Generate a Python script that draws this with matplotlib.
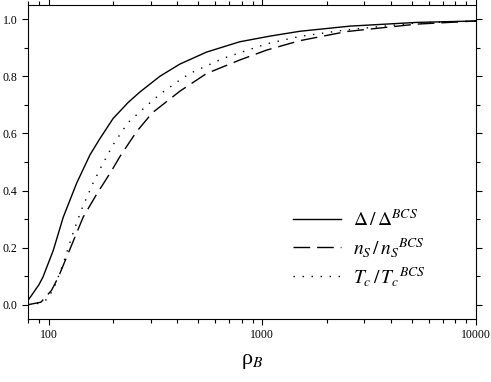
#!/usr/bin/env python3

import matplotlib
matplotlib.use("Agg")
import matplotlib.pyplot as plt
from matplotlib.ticker import LogLocator, MultipleLocator, FixedFormatter, FixedLocator

plt.rcParams['font.family'] = ['Liberation Serif', 'DejaVu Serif']
plt.rcParams['mathtext.fontset'] = 'stix'

# values
rho_delta = [80, 90, 94, 105, 117, 135, 156, 173, 200, 235, 267, 331, 411, 548, 782,
             1085, 1500, 2570, 5270, 10000]
delta = [0.015, 0.07, 0.097, 0.19, 0.307, 0.425, 0.525, 0.58, 0.652, 0.708, 0.745, 0.80, 0.843,
         0.885, 0.921, 0.941, 0.958, 0.976, 0.989, 0.994]

rho_ns = [80, 92, 103, 111, 125, 145, 167, 186, 200, 215, 257, 305, 383, 411, 548, 782,
          1047, 1497, 2480, 5270, 10000]
ns = [0.0, 0.009, 0.05, 0.097, 0.19, 0.307, 0.385, 0.44, 0.478, 0.518, 0.605, 0.672, 0.73,
      0.748, 0.81, 0.857, 0.892, 0.925, 0.957, 0.983, 0.994]

rho_tc = [80, 90, 99, 107, 117, 128, 142, 161, 176, 200, 235, 290, 331, 411, 457, 655,
          1047, 1497, 2480, 5270, 10000]
tc = [0.0, 0.005, 0.02, 0.068, 0.144, 0.237, 0.331, 0.425, 0.483, 0.56, 0.638, 0.70, 0.737,
      0.787, 0.81, 0.863, 0.914, 0.94, 0.963, 0.987, 0.994]

labels = [r'$\Delta\,/\,\Delta^{BCS}$',
          r'$n_S\,/\,{n_S}^{BCS}$',
          r'$T_c\,/\,{T_c}^{BCS}$']

fig = plt.figure(figsize=(4.91, 3.82), dpi=100)
ax = fig.add_axes([28/491, 63/382, 448/491, 314/382])

ax.plot(rho_delta, delta, color='black', lw=1.0, ls='-', label=labels[0])
ax.plot(rho_ns, ns, color='black', lw=1.0, ls=(0, (12, 5)), label=labels[1])
ax.plot(rho_tc, tc, color='black', lw=1.0, ls=(0, (1, 5.5)), label=labels[2])

ax.set_xscale('log')
ax.set_xlim(80, 10000)
ax.set_ylim(-0.05, 1.05)

ax.xaxis.set_major_locator(FixedLocator([100, 1000, 10000]))
ax.xaxis.set_major_formatter(FixedFormatter(['100', '1000', '10000']))
ax.xaxis.set_minor_locator(LogLocator(base=10, subs=range(2, 10)))
ax.xaxis.set_minor_formatter(plt.NullFormatter())
ax.yaxis.set_major_locator(MultipleLocator(0.2))
ax.yaxis.set_minor_locator(MultipleLocator(0.1))
ax.yaxis.set_major_formatter(plt.FuncFormatter(lambda v, p: '%.1f' % v))

ax.tick_params(which='both', direction='out', top=True, right=True,
               labelsize=8.5, width=0.8)
ax.tick_params(which='major', length=4)
ax.tick_params(which='minor', length=3)
ax.tick_params(axis='x', pad=3)

ax.set_xlabel(r'ρ$_{B}$', fontsize=16, labelpad=8)

ax.legend(loc='upper left', bbox_to_anchor=(0.552, 0.404), frameon=False,
          fontsize=14, handlelength=2.5, handletextpad=0.6, labelspacing=0.3)

plt.savefig('out.png', dpi=100)
